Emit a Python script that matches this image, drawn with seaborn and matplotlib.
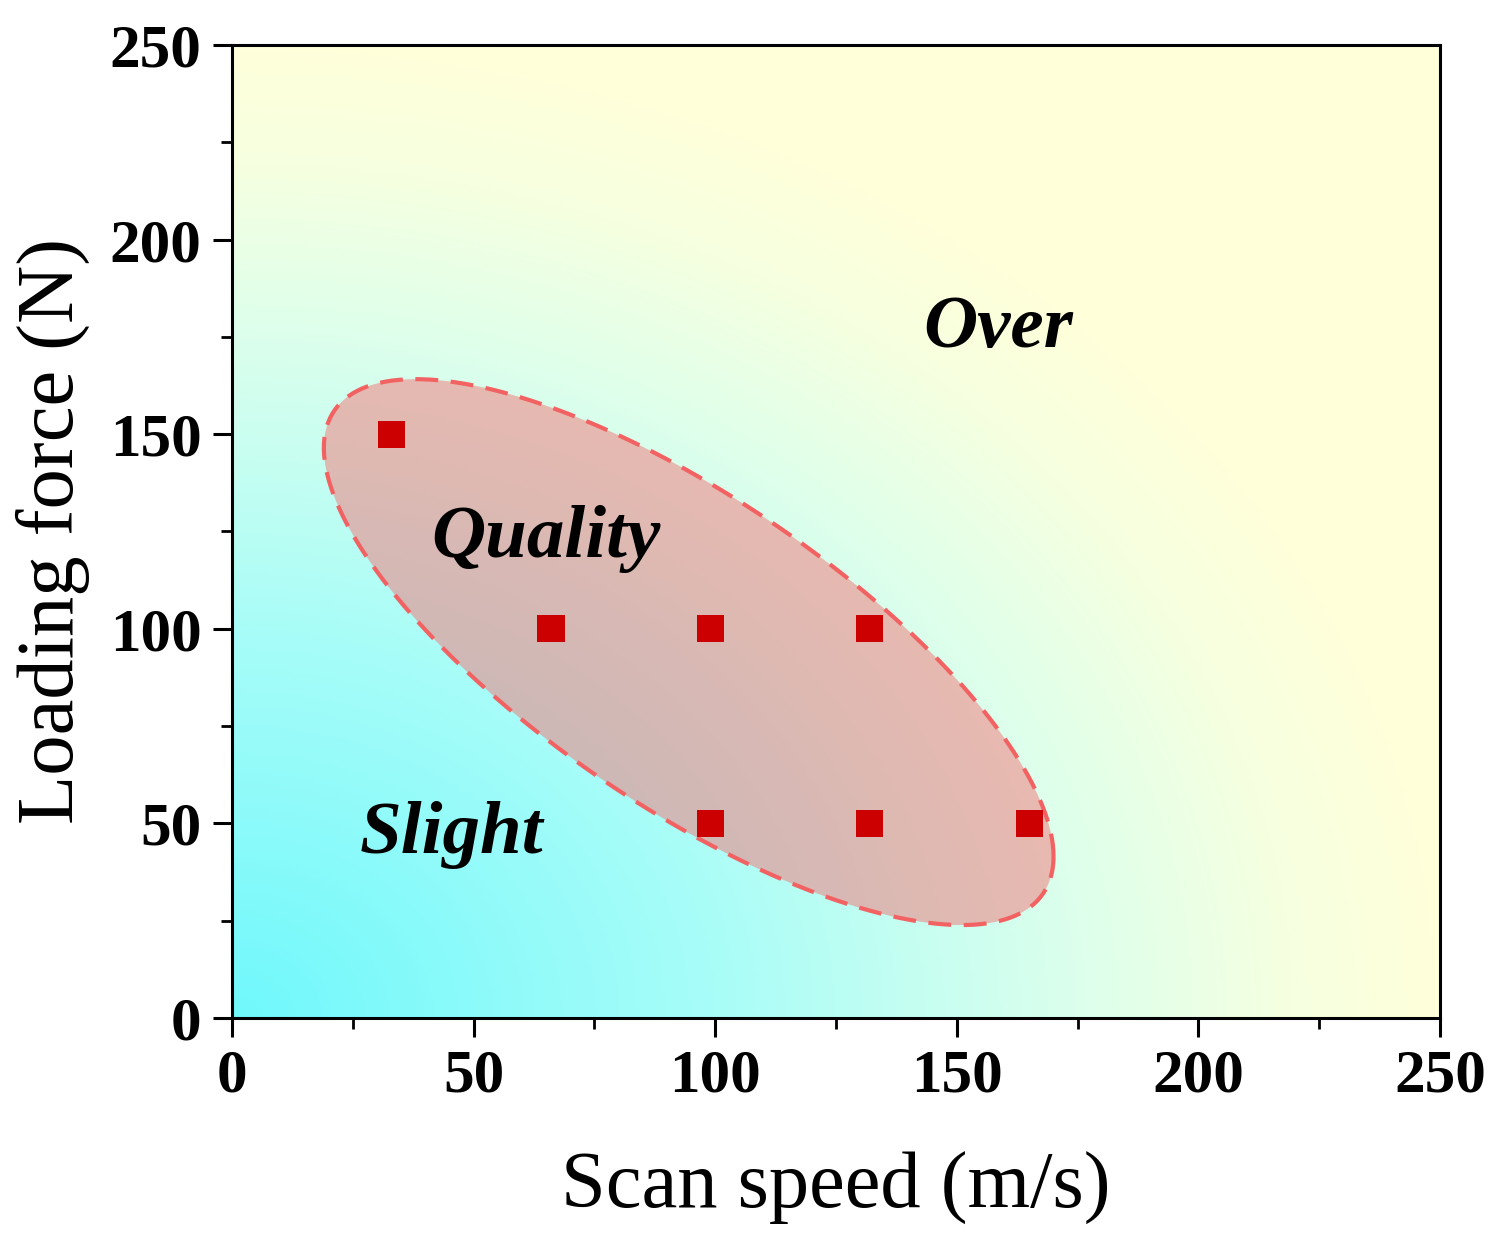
import numpy as np
import pandas as pd
import matplotlib
matplotlib.use('Agg')
import matplotlib.pyplot as plt
from matplotlib.colors import LinearSegmentedColormap
from matplotlib.ticker import MultipleLocator
import seaborn as sns

# Process window points
scan_speed = [33, 66, 99, 132, 99, 132, 165]
loading_force = [150, 100, 100, 100, 50, 50, 50]

# Region labels
region_names = ['Over', 'Quality', 'Slight']
region_x = [158.5, 65, 45.5]
region_y = [177, 123, 47]

# Quality window ellipse (centre + two half-axis vectors, data units)
ell_center = (94.5, 94.0)
ell_u = (75.5, -52.5)
ell_v = (0.0, 46.5)

sns.set_theme(style='ticks')
plt.rcParams['font.family'] = ['Liberation Serif', 'DejaVu Serif']
plt.rcParams['text.color'] = 'black'
plt.rcParams['axes.labelcolor'] = 'black'
plt.rcParams['xtick.color'] = 'black'
plt.rcParams['ytick.color'] = 'black'

fig = plt.figure(figsize=(14.97, 12.49), dpi=100)
ax = fig.add_axes([0.155, 0.185, 0.807, 0.779])

# Background gradient: cyan in the bottom-left corner fading to pale yellow
gx, gy = np.meshgrid(np.linspace(0, 1, 400), np.linspace(0, 1, 400))
r = np.clip(np.sqrt(gx ** 2 + gy ** 2), 0, 1)
bg_cmap = LinearSegmentedColormap.from_list(
    'bg', [(0.0, '#70F8FC'), (0.4, '#A8FDF8'), (0.7, '#DCFFEC'),
           (0.88, '#F6FFE0'), (1.0, '#FFFFDA')])
ax.imshow(r, cmap=bg_cmap, origin='lower', extent=[0, 250, 0, 250],
          aspect='auto', zorder=0, interpolation='bilinear')

# Ellipse
t = np.linspace(0, 2 * np.pi, 400)
ex = ell_center[0] + ell_u[0] * np.cos(t) + ell_v[0] * np.sin(t)
ey = ell_center[1] + ell_u[1] * np.cos(t) + ell_v[1] * np.sin(t)
ax.fill(ex, ey, color='#F47576', alpha=0.5, lw=0, zorder=1)
ax.plot(ex, ey, color='#F26262', lw=3.0, ls=(0, (5.5, 3.0)), zorder=2)

df = pd.DataFrame({'speed': scan_speed, 'force': loading_force})
sns.scatterplot(data=df, x='speed', y='force', marker='s', s=380,
                color='#CC0000', edgecolor='none', ax=ax, zorder=3)

for name, x, y in zip(region_names, region_x, region_y):
    ax.text(x, y, name, fontsize=54, fontweight='bold', fontstyle='italic',
            ha='center', va='center', zorder=4)

ax.set_xlim(0, 250)
ax.set_ylim(0, 250)
ax.xaxis.set_major_locator(MultipleLocator(50))
ax.yaxis.set_major_locator(MultipleLocator(50))
ax.xaxis.set_minor_locator(MultipleLocator(25))
ax.yaxis.set_minor_locator(MultipleLocator(25))
ax.tick_params(which='major', direction='out', length=14, width=2.2,
               labelsize=44, pad=8)
ax.tick_params(which='minor', direction='out', length=8, width=2.0)
for lab in ax.get_xticklabels() + ax.get_yticklabels():
    lab.set_fontweight('bold')
for sp in ax.spines.values():
    sp.set_linewidth(2.2)
    sp.set_color('black')

ax.set_xlabel('Scan speed (m/s)', fontsize=58, labelpad=34)
ax.set_ylabel('Loading force (N)', fontsize=58, labelpad=14)

fig.savefig('out.png', dpi=100)
